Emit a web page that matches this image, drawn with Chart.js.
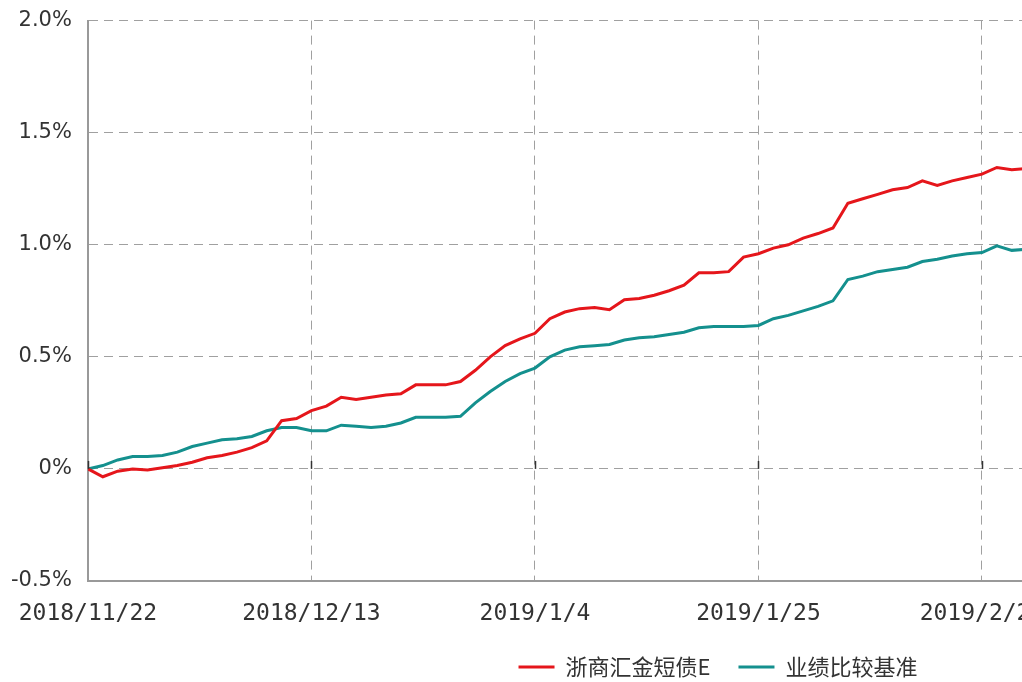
<!DOCTYPE html>
<html>
<head>
<meta charset="utf-8">
<script src="https://cdn.jsdelivr.net/npm/chart.js@4/dist/chart.umd.min.js"></script>
<style>
  html, body { margin: 0; padding: 0; background: #fff; overflow: hidden; }
  #wrap { width: 1022px; height: 682px; overflow: hidden; position: relative; }
  canvas { position: absolute; left: -5px; top: -8px; }
</style>
</head>
<body>
<div id="wrap"><canvas id="chart" width="1468" height="690"></canvas></div>
<script>
// trading days (12/31 NAV included)
const dates = [
  '2018/11/22', '2018/11/23', '2018/11/26', '2018/11/27', '2018/11/28', '2018/11/29', '2018/11/30',
  '2018/12/3', '2018/12/4', '2018/12/5', '2018/12/6', '2018/12/7', '2018/12/10', '2018/12/11',
  '2018/12/12', '2018/12/13', '2018/12/14', '2018/12/17', '2018/12/18', '2018/12/19', '2018/12/20',
  '2018/12/21', '2018/12/24', '2018/12/25', '2018/12/26', '2018/12/27', '2018/12/28', '2018/12/31',
  '2019/1/2', '2019/1/3', '2019/1/4', '2019/1/7', '2019/1/8', '2019/1/9', '2019/1/10', '2019/1/11',
  '2019/1/14', '2019/1/15', '2019/1/16', '2019/1/17', '2019/1/18', '2019/1/21', '2019/1/22',
  '2019/1/23', '2019/1/24', '2019/1/25', '2019/1/28', '2019/1/29', '2019/1/30', '2019/1/31',
  '2019/2/1', '2019/2/11', '2019/2/12', '2019/2/13', '2019/2/14', '2019/2/15', '2019/2/18',
  '2019/2/19', '2019/2/20', '2019/2/21', '2019/2/22', '2019/2/25', '2019/2/26', '2019/2/27'
]

// 累计收益率 (%)
const fundValues = [
  0.00, -0.035, -0.01, 0.00, -0.005, 0.005, 0.015, 0.03, 0.05, 0.06, 0.075, 0.095, 0.125, 0.215,
  0.225, 0.26, 0.28, 0.32, 0.31, 0.32, 0.33, 0.335, 0.375, 0.375, 0.375, 0.39, 0.44, 0.50,
  0.55, 0.58, 0.605, 0.67, 0.70, 0.715, 0.72, 0.71, 0.755, 0.76, 0.775, 0.795, 0.82, 0.875,
  0.875, 0.88, 0.945, 0.96, 0.985, 1.00, 1.03, 1.05, 1.075, 1.185, 1.205, 1.225, 1.245, 1.255,
  1.285, 1.265, 1.285, 1.30, 1.315, 1.345, 1.335, 1.34
]
const benchValues = [
  0.00, 0.015, 0.04, 0.055, 0.055, 0.06, 0.075, 0.10, 0.115, 0.13, 0.135, 0.145, 0.17, 0.185,
  0.185, 0.17, 0.17, 0.195, 0.19, 0.185, 0.19, 0.205, 0.23, 0.23, 0.23, 0.235, 0.295, 0.345,
  0.39, 0.425, 0.45, 0.50, 0.53, 0.545, 0.55, 0.555, 0.575, 0.585, 0.59, 0.60, 0.61, 0.63,
  0.635, 0.635, 0.635, 0.64, 0.67, 0.685, 0.705, 0.725, 0.75, 0.845, 0.86, 0.88, 0.89, 0.90,
  0.925, 0.935, 0.95, 0.96, 0.965, 0.995, 0.975, 0.98
]

const seriesNames = ['浙商汇金短债E', '业绩比较基准']
const yTicks = [-0.5, 0, 0.5, 1.0, 1.5, 2.0]

function toPoints(values) {
  return values.map((v, i) => ({ x: i, y: v }))
}

// small dark marks on the zero line at each x tick
const zeroTicks = {
  id: 'zeroTicks',
  afterDatasetsDraw(chart) {
    const ctx = chart.ctx
    const xs = chart.scales.x
    const ys = chart.scales.y
    const py = ys.getPixelForValue(0)
    ctx.save()
    ctx.strokeStyle = '#333'
    ctx.lineWidth = 1.5
    xs.ticks.forEach(t => {
      const px = Math.round(xs.getPixelForValue(t.value)) + 0.5
      ctx.beginPath()
      ctx.moveTo(px, py - 8)
      ctx.lineTo(px, py)
      ctx.stroke()
    })
    ctx.restore()
  }
}

// nudge the legend a bit to the right
const legendShift = {
  id: 'legendShift',
  afterLayout(chart) {
    chart.legend.left += 6
    chart.legend.right += 6
  }
}

new Chart(document.getElementById('chart'), {
  type: 'line',
  data: {
    datasets: [{
      label: seriesNames[0],
      data: toPoints(fundValues),
      borderColor: '#e5161b',
      backgroundColor: '#e5161b',
      borderWidth: 3,
      pointRadius: 0,
      tension: 0
    }, {
      label: seriesNames[1],
      data: toPoints(benchValues),
      borderColor: '#14908e',
      backgroundColor: '#14908e',
      borderWidth: 3,
      pointRadius: 0,
      tension: 0
    }]
  },
  options: {
    responsive: false,
    animation: false,
    layout: { padding: { left: 0, right: 34, top: 2, bottom: 0 } },
    plugins: {
      tooltip: { enabled: false },
      legend: {
        position: 'bottom',
        maxHeight: 54,
        labels: {
          usePointStyle: true,
          pointStyle: 'line',
          pointStyleWidth: 36,
          boxWidth: 36,
          padding: 28,
          color: '#333',
          font: { family: '"Noto Sans CJK SC", sans-serif', size: 22 }
        }
      }
    },
    scales: {
      x: {
        type: 'linear',
        min: 0,
        max: 90,
        afterFit: axis => { axis.height = 47 },
        grid: { color: '#a0a0a0', lineWidth: 1, drawTicks: false },
        border: { color: '#999', width: 2, dash: [9, 6] },
        ticks: {
          stepSize: 15,
          maxRotation: 0,
          autoSkip: false,
          padding: 19,
          color: '#333',
          font: { family: '"DejaVu Sans Mono", monospace', size: 23 },
          callback: v => dates[v] || ''
        }
      },
      y: {
        min: -0.5,
        max: 2.0,
        afterBuildTicks: axis => { axis.ticks = yTicks.map(v => ({ value: v })) },
        grid: { color: '#a0a0a0', lineWidth: 1, drawTicks: false },
        border: { color: '#999', width: 2, dash: [9, 6] },
        ticks: {
          padding: 16,
          color: '#333',
          font: { family: '"DejaVu Sans", sans-serif', size: 21 },
          callback: v => (v === 0 ? '0%' : v.toFixed(1) + '%')
        }
      }
    }
  },
  plugins: [zeroTicks, legendShift]
})
</script>
</body>
</html>
